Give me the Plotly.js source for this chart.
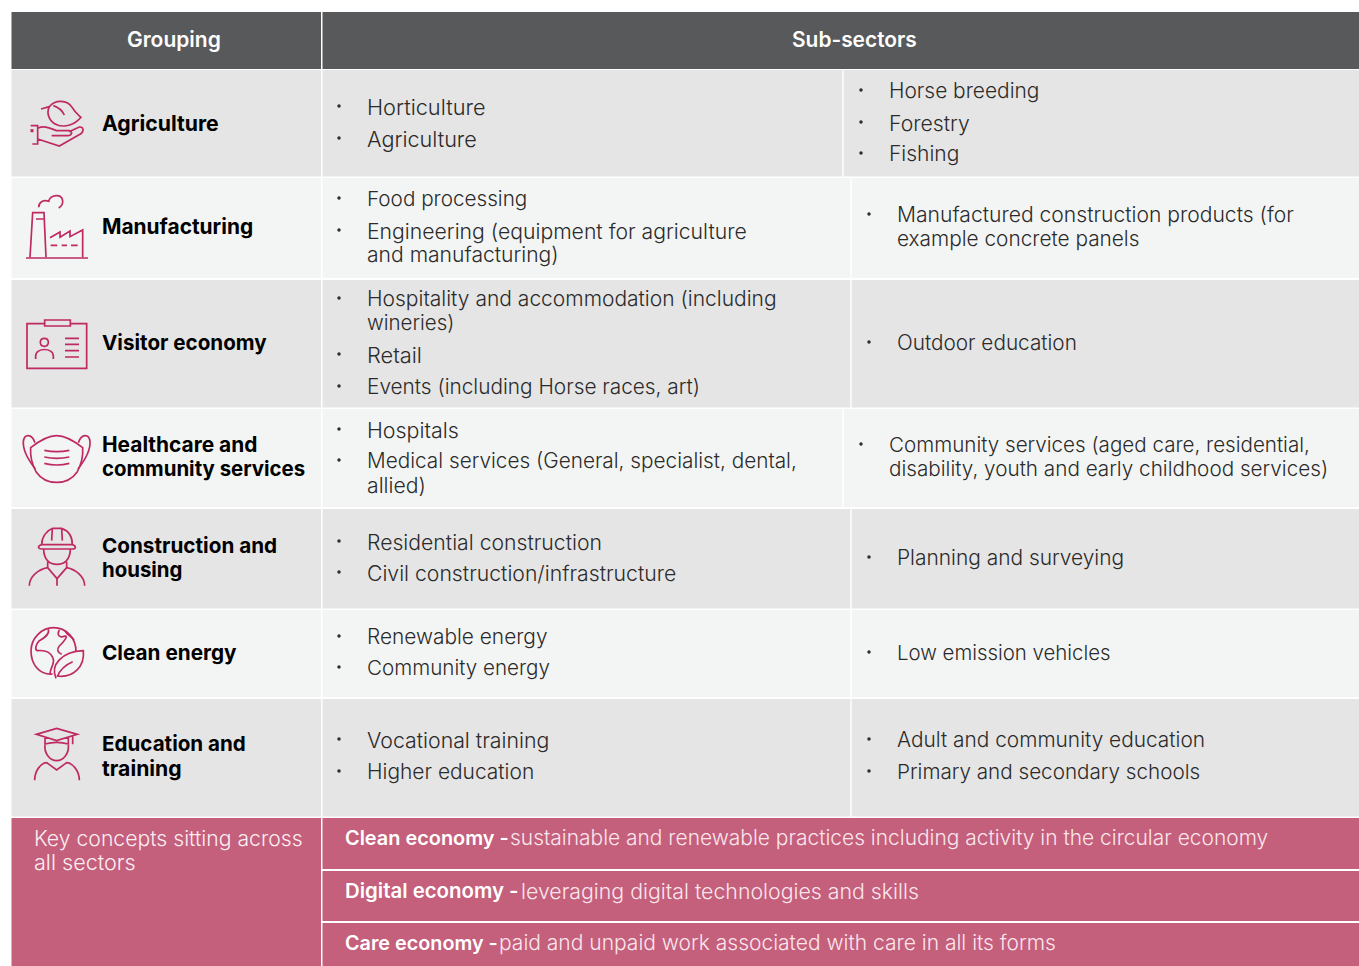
<!DOCTYPE html>
<html><head><meta charset="utf-8">
<script src="https://cdn.plot.ly/plotly-3.0.1.min.js"></script>
<style>html,body{margin:0;padding:0;background:#fff;overflow:hidden}#c{width:1359px;height:966px}</style>
</head><body><div id="c"></div>
<script>
// ---- table content ----
const headers = ["Grouping", "Sub-sectors"];
const groupLabels = [["Agriculture"],["Manufacturing"],["Visitor economy"],["Healthcare and","community services"],["Construction and","housing"],["Clean energy"],["Education and","training"]];
const groupY = [[123],[227],[343],[445,469],[546,570],[653],[744,768]];
const leftText = [
 ["Horticulture","Agriculture"],
 ["Food processing","Engineering (equipment for agriculture","and manufacturing)"],
 ["Hospitality and accommodation (including","wineries)","Retail","Events (including Horse races, art)"],
 ["Hospitals","Medical services (General, specialist, dental,","allied)"],
 ["Residential construction","Civil construction/infrastructure"],
 ["Renewable energy","Community energy"],
 ["Vocational training","Higher education"]];
const leftY = [[107,139],[199,231,255],[299,323,355,387],[430,461,485],[542,573],[637,668],[740,772]];
const leftBullets = [[107,139],[199,231],[299,355,387],[430,461],[542,573],[637,668],[740,772]];
const rightText = [
 ["Horse breeding","Forestry","Fishing"],
 ["Manufactured construction products (for","example concrete panels"],
 ["Outdoor education"],
 ["Community services (aged care, residential,","disability, youth and early childhood services)"],
 ["Planning and surveying"],
 ["Low emission vehicles"],
 ["Adult and community education","Primary and secondary schools"]];
const rightY = [[91,123,154],[215,239],[343],[445,469],[558],[653],[740,772]];
const rightBullets = [[91,123,154],[215],[343],[445],[558],[653],[740,772]];
const rowTop = [70,178,280,409,509,610,699];
const rowBottom = [176.5,278,407.5,507,608.5,697,816.5];
const rowSplit = [843,851,851,843,851,851,851];
const conceptLead = "Key concepts sitting across";
const conceptLead2 = "all sectors";
const conceptBold = ["Clean economy -","Digital economy -","Care economy -"];
const conceptBoldSize = [19.9,20.4,19.8];
const conceptText = ["sustainable and renewable practices including activity in the circular economy","leveraging digital technologies and skills","paid and unpaid work associated with care in all its forms"];
const conceptTextX = [510,521,499];
const conceptY = [838,891,943];
const conceptTop = [818,871,923];
const conceptBottom = [869,921,966];

// ---- style ----
const FONT = "Inter, 'Noto Sans', sans-serif";
const DARK="#58595b", GREY="#e5e5e5", PALE="#f3f5f4", PINK="#c45f7c", ICON="#bf2a62";
const BODY=21.2;
const fit={"Horticulture":21.75,"Agriculture":21.6,"Horse breeding":20.9,"Fishing":21,"Food processing":20.7,"and manufacturing)":21.1,
"Manufactured construction products (for":21.1,"example concrete panels":20.8,"Hospitality and accommodation (including":21,"wineries)":20.5,"Retail":21.8,
"Events (including Horse races, art)":20.8,"Outdoor education":20.75,"Hospitals":21.4,"Medical services (General, specialist, dental,":20.75,
"Community services (aged care, residential,":20.6,"disability, youth and early childhood services)":20.7,"Planning and surveying":20.9,"Renewable energy":20.85,
"Community energy":20.6,"Low emission vehicles":20.4,"Vocational training":21.3,"Higher education":20.95,"Adult and community education":20.85,
"Primary and secondary schools":20.65,"all sectors":21.6,"sustainable and renewable practices including activity in the circular economy":20.95,
"leveraging digital technologies and skills":21.3,"paid and unpaid work associated with care in all its forms":21,
"Grouping":21,"Sub-sectors":20.9};
const fitBold={"Agriculture":21.2,"Manufacturing":20.9,"Visitor economy":20.6,"Healthcare and":20.9,"community services":20.4,"Construction and":20.7,"housing":20.4,"Clean energy":20.75,"Education and":20.6,"training":21.2};

const shapes=[], ann=[];
function rect(x0,y0,x1,y1,c){shapes.push({type:'rect',xref:'x',yref:'y',x0,y0,x1,y1,fillcolor:c,line:{width:0},layer:'below'});}
function txt(x,y,t,o){o=o||{};ann.push({xref:'x',yref:'y',x:x,y:y-0.5,text:t,showarrow:false,xanchor:o.a||'left',yanchor:'middle',borderpad:0,borderwidth:0,
  font:{family:FONT,size:o.s||fit[t]||BODY,color:o.c||'#2b2b2b',weight:o.w||300}});}

rect(11.5,12,321,69,DARK); rect(322.5,12,1359,69,DARK);
txt(174,40,headers[0],{a:'center',c:'#fff',w:600});
txt(854,40,headers[1],{a:'center',c:'#fff',w:600});

const bx=[],by=[];
rowTop.forEach((t,i)=>{
  const b=rowBottom[i], c=i%2?PALE:GREY, sp=rowSplit[i];
  rect(11.5,t,321,b,c); rect(322.5,t,sp-0.7,b,c); rect(sp+0.7,t,1359,b,c);
  groupLabels[i].forEach((s,k)=>txt(102,groupY[i][k],s,{c:'#000',w:700,s:fitBold[s]}));
  leftText[i].forEach((s,k)=>txt(367,leftY[i][k],s));
  leftBullets[i].forEach(y=>{bx.push(339);by.push(y-1);});
  const rx=sp+45.6;
  rightText[i].forEach((s,k)=>txt(rx,rightY[i][k],s));
  rightBullets[i].forEach(y=>{bx.push(sp+18);by.push(y-1);});
});

rect(11.5,818,321,966,PINK);
txt(34,838,conceptLead,{c:'#fbeef2'});
txt(34,862,conceptLead2,{c:'#fbeef2'});
conceptBold.forEach((s,i)=>{
  rect(322.5,conceptTop[i],1359,conceptBottom[i],PINK);
  txt(345,conceptY[i],s,{c:'#fff',w:600,s:conceptBoldSize[i]});
  txt(conceptTextX[i],conceptY[i],conceptText[i],{c:'#fbe6ec'});
});

// ---- icons: outlines traced on a 3x grid ----
function ic(path,oy){
  const d=path.replace(/([MLCQ])([^MLCQHVZ]*)|([H])(-?[\d.]+)|([V])(-?[\d.]+)/g,(m,c,args,h,hv,v,vv)=>{
    if(h) return 'H'+(+hv/3).toFixed(2);
    if(v) return 'V'+(+vv/3+oy).toFixed(2);
    return c+args.replace(/(-?[\d.]+),(-?[\d.]+)/g,(q,a,b)=>(+a/3).toFixed(2)+','+(+b/3+oy).toFixed(2));
  });
  shapes.push({type:'path',xref:'x',yref:'y',path:d,line:{color:ICON,width:1.7},fillcolor:'rgba(0,0,0,0)',layer:'above'});
}
// agriculture
ic('M123,327 L148,320 M148,320 C165,298 202,298 217,323 C225,338 235,345 243,352 C225,374 195,384 170,374 C148,366 138,340 148,320 Z',0);
ic('M160,317 C175,322 187,332 193,345',0);
ic('M92,377 H113 V432 H97 M113,385 C135,375 150,385 170,392 H208 C220,395 215,407 203,407 H155 M207,395 L238,381 C252,380 253,395 240,403 L178,438 L113,417',0);
ic('M94,390 L98,390 L98,394 L94,394 Z',0);
// manufacturing
ic('M90,772 L98,638 H132 L138,772 M108,657 H130',0);
ic('M116,622 C116,606 132,598 146,604 C150,585 186,578 188,602 C189,612 183,620 176,624',0);
ic('M150,713 L180,696 V712 L210,693 V710 L248,690 V772',0);
ic('M152,736 H172 M185,736 H201 M213,736 H233 M78,774 H264',0);
// visitor
ic('M134,101 H81 V235 H260 V101 H211 M134,90 H211 V108 H134 Z',290);
ic('M121,157 C121,141 145,141 145,157 C145,173 121,173 121,157 Z M107,207 V198 C107,172 160,172 160,198 V207',290);
ic('M195,145 H237 M195,163 H237 M195,182 H237 M195,201 H237',290);
// mask
ic('M92,473 C115,455 145,437 170,437 C195,437 225,455 248,473 C250,500 240,530 232,545 C215,570 190,577 170,577 C150,577 125,570 108,545 C100,530 90,500 92,473 Z',290);
ic('M106,537 C85,510 68,480 70,455 C72,432 95,428 105,458 M234,537 C255,510 272,480 270,455 C268,432 245,428 235,458',290);
ic('M133,481 Q170,489 208,481 M133,501 Q170,509 208,501 M133,520 Q170,530 208,520',290);
// construction
ic('M125,764 C125,740 140,722 158,715 H185 C205,722 217,740 217,764 M157,715 L155,752 M185,715 L187,752',290);
ic('M125,764 H217 C230,768 228,777 217,777 H125 C113,777 112,768 125,764 Z',290);
ic('M131,777 C131,810 150,823 171,823 C192,823 211,810 211,777 M143,815 V833 L171,866 L200,833 V815',290);
ic('M88,887 C88,860 115,838 143,833 M254,887 C254,860 227,838 200,833 M171,866 V887',290);
// clean energy
ic('M158,192 C115,195 93,160 93,122 C93,85 125,53 160,53 C200,53 228,85 228,125',610);
ic('M168,205 C150,165 185,125 250,122 C255,170 220,205 170,198 M172,200 C180,178 195,165 218,155',610);
ic('M145,58 C150,75 130,85 118,92 C105,105 105,120 112,122 C130,120 150,125 158,142 C168,160 150,170 150,192',610);
ic('M178,60 C170,75 178,85 195,78 C205,78 192,95 178,108 C170,118 172,128 185,133 M195,62 C200,75 215,78 222,90',610);
// education
ic('M109,373 L170,355 L232,373 L170,392 Z M135,382 V402 C160,395 180,395 205,402 V382 M218,378 V403',610);
ic('M135,405 C132,430 150,452 170,452 C190,452 208,430 205,405',610);
ic('M104,511 C104,480 125,458 140,458 L170,480 L200,458 C215,458 238,480 238,511',610);

const traces=[{type:'scatter',mode:'markers',x:bx,y:by,hoverinfo:'skip',showlegend:false,cliponaxis:false,
  marker:{size:3.5,color:'#2b2b2b',line:{width:0}}}];
const layout={width:1359,height:966,margin:{l:0,r:0,t:0,b:0,pad:0},paper_bgcolor:'#fff',plot_bgcolor:'#fff',showlegend:false,
  xaxis:{range:[0,1359],visible:false,fixedrange:true},
  yaxis:{range:[966,0],visible:false,fixedrange:true},
  shapes:shapes,annotations:ann};
Plotly.newPlot('c',traces,layout,{staticPlot:true,displayModeBar:false});
</script></body></html>
